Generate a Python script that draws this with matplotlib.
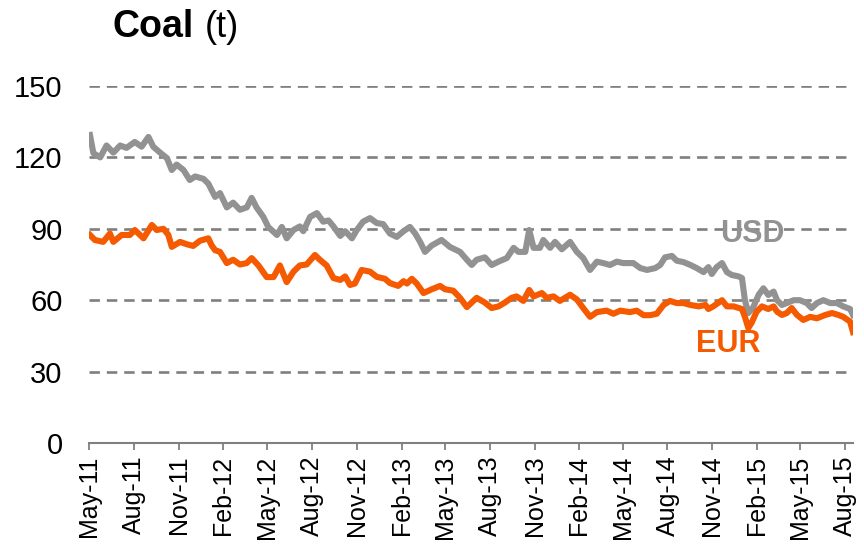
import numpy as np
import matplotlib
matplotlib.use("Agg")
import matplotlib.pyplot as plt
import matplotlib.dates as mdates

plt.rcParams['font.family'] = ['Liberation Sans', 'DejaVu Sans']
plt.rcParams['lines.scale_dashes'] = False

start = np.datetime64('2011-05-01')

# USD series: days since 2011-05-01, price
usd_days = [2, 9, 23, 36, 50, 64, 77, 94, 108, 122, 132, 146, 160, 170, 180, 194, 207, 218, 235, 245,
            259, 269, 283, 296, 310, 324, 334, 344, 358, 368, 386, 396, 406, 420, 433, 440, 454, 468, 481, 492,
            502, 516, 526, 540, 550, 563, 577, 591, 604, 618, 632, 646, 659, 670, 680, 690, 704, 724, 741, 762,
            776, 786, 796, 813, 827, 841, 858, 872, 882, 896, 904, 913, 926, 933, 947, 957, 971, 988, 1002, 1015,
            1029, 1043, 1056, 1070, 1084, 1097, 1118, 1132, 1146, 1163, 1173, 1183, 1197, 1207, 1221, 1235, 1248,
            1262, 1272, 1279, 1289, 1300, 1310, 1320, 1334, 1341, 1347, 1354, 1364, 1375, 1385, 1395, 1406, 1413,
            1423, 1433, 1447, 1460, 1474, 1484, 1495, 1508, 1522, 1536, 1549, 1563, 1569]
usd_vals = [129.4, 121.8, 120, 125, 122, 125, 124, 126.5, 124.5, 128.6, 124.5, 122, 119.7, 114.7, 117, 114.7,
            110.5, 112, 111, 109, 103.4, 105, 99, 101, 98, 99, 103, 99, 95, 90.8, 87.4, 90.8, 86, 89.5, 91, 89,
            95, 96.6, 93, 93.5, 91, 87, 89, 86, 89.5, 93, 94.5, 92.4, 92, 88, 86.6, 89, 90.8, 88, 84.5, 80.3,
            83, 85.3, 82.4, 80.3, 77, 74.8, 77, 78, 74.8, 76.2, 77.7, 82, 80.3, 80.3, 89.5, 82, 82, 85.3, 82,
            84.5, 81.4, 84.5, 80.3, 77.7, 72.7, 76.2, 75.6, 74.8, 76.2, 75.6, 75.6, 73.5, 72.7, 73.5, 74.8, 78,
            78.6, 76.6, 76, 74.8, 73.5, 71.8, 73.9, 71, 73.9, 75.6, 71.8, 70.6, 70, 69.3, 60, 54.6, 57, 62.2,
            65, 62.2, 63.6, 60, 58, 58.8, 60, 60, 58.8, 56.7, 58.8, 60, 58.8, 58.8, 57.4, 56.3, 53.8]

# EUR series
eur_days = [2, 12, 29, 43, 50, 67, 84, 94, 112, 129, 139, 153, 163, 170, 187, 201, 214, 228, 245, 252,
            259, 269, 283, 296, 310, 324, 334, 348, 365, 379, 392, 406, 420, 433, 447, 464, 474, 488, 502, 516,
            526, 536, 546, 560, 577, 591, 608, 618, 635, 646, 653, 663, 673, 687, 704, 721, 731, 748, 762, 776,
            796, 813, 827, 841, 854, 868, 878, 892, 904, 913, 930, 940, 954, 967, 988, 1002, 1015, 1029, 1043,
            1063, 1077, 1091, 1111, 1125, 1139, 1152, 1166, 1180, 1193, 1207, 1221, 1235, 1252, 1266, 1272,
            1282, 1300, 1310, 1324, 1341, 1347, 1354, 1361, 1371, 1382, 1395, 1406, 1413, 1423, 1433, 1443,
            1454, 1467, 1481, 1495, 1512, 1526, 1539, 1549, 1563, 1569]
eur_vals = [87.4, 85.3, 84.5, 88, 84.5, 87.4, 87.4, 89.5, 86, 91.6, 89.5, 90, 87.4, 82.4, 84.5, 83.5, 82.8,
            85, 86, 83, 81, 80.3, 75.6, 77, 75, 75.6, 77.7, 74.6, 69.7, 69.7, 74.6, 67.6, 72, 74.6, 75, 79, 77,
            74.6, 69.3, 68.5, 70, 66.4, 67, 72.7, 72, 69.8, 69, 67.2, 66, 68, 67, 69, 67, 63, 64.6, 66, 64.6,
            64, 61, 57.1, 61, 59, 56.7, 57.4, 59, 61, 61.6, 59.7, 64.3, 61.6, 63, 61, 61.6, 59.7, 62.3, 60.3,
            56.7, 53, 55, 55.6, 54.3, 55.6, 55, 55.6, 53.7, 53.7, 54.3, 58, 59.7, 58.8, 58.8, 58, 57.4, 58,
            56.3, 57.4, 60, 57.4, 57.4, 56.3, 53, 48.3, 50.6, 55.2, 57.4, 56.3, 57.4, 55.2, 53.8, 54.6, 56.7,
            53.8, 51.7, 53, 52.4, 53.8, 54.6, 53.8, 53, 51, 46.6]

yticks = [0, 30, 60, 90, 120, 150]
series_labels = ['USD', 'EUR']

usd_dates = start + np.array(usd_days, dtype='timedelta64[D]')
eur_dates = start + np.array(eur_days, dtype='timedelta64[D]')

gray = '#929292'
orange = '#f55a00'

fig = plt.figure(figsize=(8.64, 5.5), dpi=100)
ax = fig.add_axes([89/864, 1-443/550, (853-89)/864, (443-86)/550])

for y in yticks[1:]:
    ax.axhline(y, color='#7f7f7f', lw=1.9, linestyle=(0, (7.5, 5.0)), zorder=1)

ax.plot(usd_dates, usd_vals, color=gray, lw=4.4, solid_joinstyle='round', zorder=3)
ax.plot(eur_dates, eur_vals, color=orange, lw=4.4, solid_joinstyle='round', zorder=4)

ax.set_ylim(0, 150)
ax.set_yticks(yticks)
ax.set_xlim(start, start + np.timedelta64(1569, 'D'))

ax.xaxis.set_major_locator(mdates.MonthLocator(bymonth=[2, 5, 8, 11], bymonthday=1))
ax.xaxis.set_major_formatter(mdates.DateFormatter('%b-%y'))

for s in ['top', 'right', 'left']:
    ax.spines[s].set_visible(False)
ax.spines['bottom'].set_color('#808080')
ax.spines['bottom'].set_linewidth(1.5)

ax.tick_params(axis='y', length=0, pad=19, labelsize=21)
ax.tick_params(axis='x', length=5, width=1.3, color='#808080', direction='out', pad=4, labelsize=18,
               labelrotation=90)

ax.text(start + np.timedelta64(1362, 'D'), 87.8, series_labels[0], color=gray, fontsize=22,
        fontweight='bold', ha='center', va='center', zorder=5)
ax.text(start + np.timedelta64(1312, 'D'), 41.6, series_labels[1], color=orange, fontsize=22,
        fontweight='bold', ha='center', va='center', zorder=5)

fig.text(112/864, 1-37/550, 'Coal', fontsize=27, fontweight='bold', ha='left', va='baseline')
fig.text(205/864, 1-37/550, '(t)', fontsize=26, ha='left', va='baseline')

fig.savefig('out.png', dpi=100)
